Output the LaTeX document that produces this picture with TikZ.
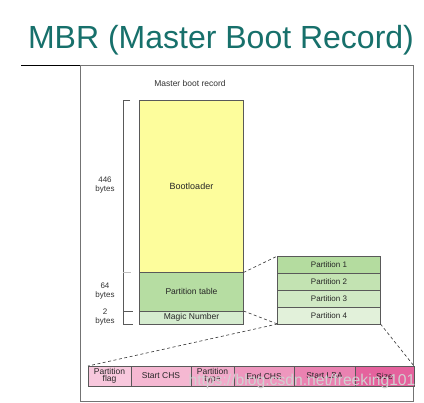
\documentclass[tikz,border=0pt]{standalone}
\usepackage{fontspec}
\setmainfont{Liberation Sans}
\definecolor{titlec}{HTML}{17706B}
\definecolor{yel}{HTML}{FDFD9C}
\definecolor{ptab}{HTML}{B6DDA2}
\definecolor{magic}{HTML}{D5ECCF}
\definecolor{pa}{HTML}{B4DC9F}
\definecolor{pb}{HTML}{C3E3B2}
\definecolor{pc}{HTML}{D0E9C4}
\definecolor{pd}{HTML}{E2F1DA}
\definecolor{ka}{HTML}{F8C8DD}
\definecolor{kb}{HTML}{F5B8D2}
\definecolor{kc}{HTML}{F2AACA}
\definecolor{kd}{HTML}{EE97BE}
\definecolor{ke}{HTML}{EA82B1}
\definecolor{kf}{HTML}{E5629D}
\begin{document}
\begin{tikzpicture}[x=1pt,y=-1pt,
  box/.style={draw=black!65, line width=0.6pt, inner sep=0pt, outer sep=0pt, anchor=north west, font=\fontsize{8.5}{9}\selectfont, text=black!85, align=center},
  pbox/.style={box, font=\fontsize{8}{9}\selectfont, minimum width=103pt, minimum height=17pt},
  fbox/.style={box, minimum height=20pt},
  lbl/.style={font=\fontsize{8}{9}\selectfont, text=black!80, align=center, inner sep=0pt},
  dsh/.style={dash pattern=on 3pt off 2.5pt, line width=0.6pt, black!80},
  brk/.style={line width=0.6pt, black!65}]
\useasboundingbox (0,0) rectangle (424,403);
\fill[white] (0,0) rectangle (424,403);
\node[font=\fontsize{32}{36}\selectfont, text=titlec, inner sep=0pt] (title) at (221,40) {MBR (Master Boot Record)};
\draw[line width=0.8pt] (21,65) -- (80,65);
\draw[black!55, line width=0.8pt] (80,65) rectangle (413,401);
\node[lbl, font=\fontsize{8.5}{9}\selectfont] (mbr) at (190,83) {Master boot record};
% MBR blocks
\node[box, fill=yel, minimum width=104pt, minimum height=172.5pt, font=\fontsize{9}{10}\selectfont] (boot) at (139.5,100) {Bootloader};
\node[box, fill=ptab, minimum width=104pt, minimum height=38.5pt] (ptable) at (139.5,272.5) {Partition table};
\node[box, fill=magic, minimum width=104pt, minimum height=13pt] (magic) at (139.5,311) {Magic Number};
% bracket
\draw[brk] (130,100) -- (123,100) -- (123,324) -- (133,324);
\draw[brk] (123,311) -- (133,311);
\draw[black!25, line width=0.6pt] (123,272.5) -- (131,272.5);
\node[lbl] (l446) at (105,185) {446\\bytes};
\node[lbl] (l64) at (105,291) {64\\bytes};
\node[lbl] (l2) at (105,317.5) {2\\bytes};
% partitions
\node[pbox, fill=pa] (p1) at (277.5,256) {Partition 1};
\node[pbox, fill=pb] (p2) at (277.5,273) {Partition 2};
\node[pbox, fill=pc] (p3) at (277.5,290) {Partition 3};
\node[pbox, fill=pd] (p4) at (277.5,307) {Partition 4};
% entry fields
\node[fbox, fill=ka, minimum width=43pt, font=\fontsize{8.5}{7.5}\selectfont] (f1) at (88,366) {Partition\\flag};
\node[fbox, fill=kb, minimum width=60pt] (f2) at (131,366) {Start CHS};
\node[fbox, fill=kc, minimum width=43pt, font=\fontsize{8.5}{7.5}\selectfont] (f3) at (191,366) {Partition\\type};
\node[fbox, fill=kd, minimum width=60pt] (f4) at (234,366) {End CHS};
\node[fbox, fill=ke, minimum width=61pt] (f5) at (294,366) {Start LBA};
\node[fbox, fill=kf, minimum width=59pt] (f6) at (355,366) {Size};
% dashed zoom lines
\draw[dsh] (boot.south east) -- (p1.north west);
\draw[dsh] (ptable.south east) -- (p4.south west);
\draw[dsh] (p4.south west) -- (f1.north west);
\draw[dsh] (p4.south east) -- (f6.north east);
% watermark
\node[font=\fontsize{15.7}{16}\selectfont, text=black!18, inner sep=0pt] (wm) at (302,381) {https://blog.csdn.net/freeking101};
\end{tikzpicture}
\end{document}
